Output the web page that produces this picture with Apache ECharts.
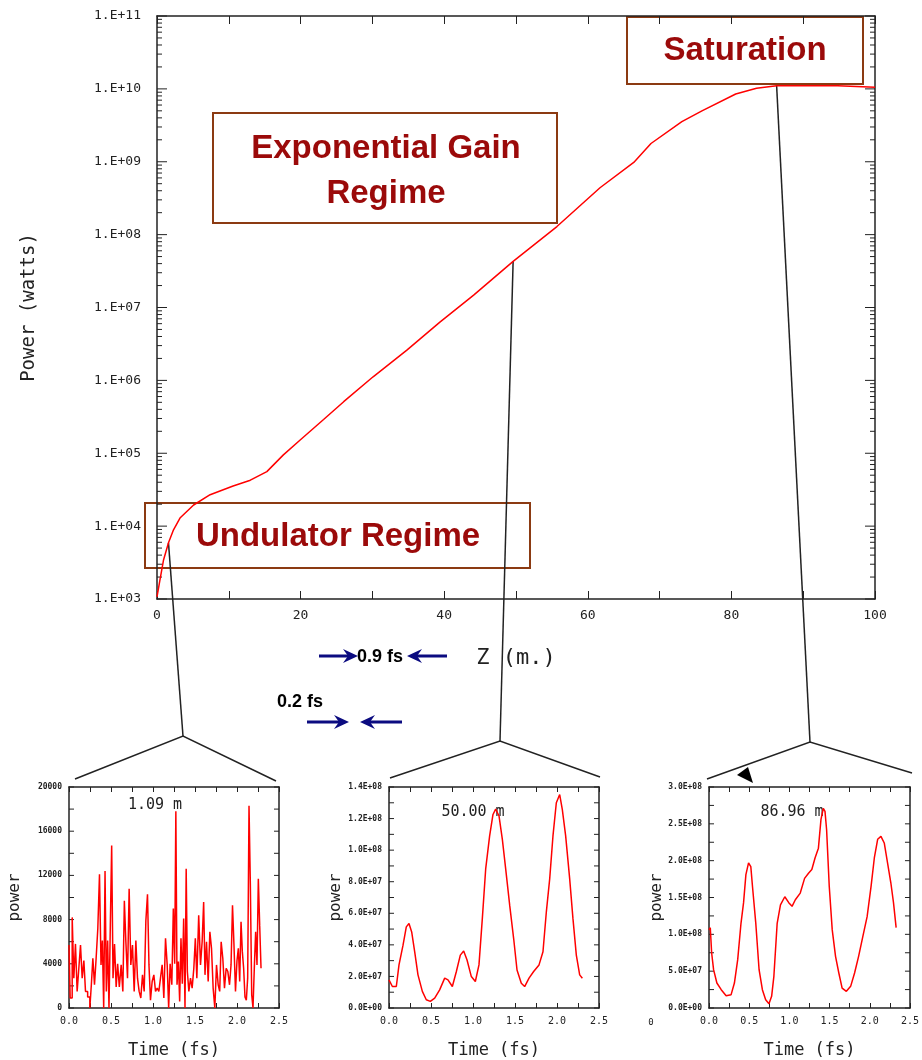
<!DOCTYPE html>
<html>
<head>
<meta charset="utf-8">
<script src="https://cdn.jsdelivr.net/npm/echarts@6.0.0/dist/echarts.min.js"></script>
<style>
  html, body { margin: 0; padding: 0; background: #fff; }
  #chart { width: 922px; height: 1060px; }
</style>
</head>
<body>
<div id="chart"></div>
<script>
// main gain curve: z (m) vs power (W)
var zPos = [0, 0.4, 0.9, 1.6, 2.3, 3.2, 5.1, 7.4, 10.6, 13, 15.3, 17.6, 19.9, 23.2, 26, 30.1,
  34.8, 39.4, 44.1, 49.6, 55.7, 61.7, 66.4, 68.8, 73.1, 75.9, 80.6, 83.5, 86.3, 90, 94.8, 100];
var powerW = [1.07e3, 1.8e3, 3.4e3, 5.9e3, 8.9e3, 1.29e4, 1.95e4, 2.7e4, 3.55e4, 4.27e4, 5.6e4,
  9.5e4, 1.51e5, 2.9e5, 5.1e5, 1.12e6, 2.6e6, 6.3e6, 1.48e7, 4.3e7, 1.29e8, 4.4e8, 9.8e8,
  1.78e9, 3.55e9, 5.0e9, 8.5e9, 1.02e10, 1.1e10, 1.1e10, 1.1e10, 1.05e10];

// pulse at 1.09 m
var t1 = [0.000, 0.028, 0.048, 0.067, 0.087, 0.107, 0.127, 0.147, 0.167, 0.187,
  0.206, 0.238, 0.258, 0.274, 0.294, 0.313, 0.333, 0.353, 0.373, 0.389,
  0.405, 0.421, 0.437, 0.452, 0.468, 0.484, 0.500, 0.516, 0.532, 0.552,
  0.571, 0.587, 0.611, 0.631, 0.651, 0.667, 0.687, 0.706, 0.726, 0.746,
  0.766, 0.786, 0.806, 0.825, 0.845, 0.865, 0.885, 0.905, 0.925, 0.944,
  0.960, 0.980, 1.000, 1.020, 1.040, 1.060, 1.079, 1.099, 1.119, 1.139,
  1.159, 1.179, 1.194, 1.214, 1.234, 1.250, 1.266, 1.278, 1.294, 1.310,
  1.325, 1.341, 1.357, 1.373, 1.389, 1.401, 1.417, 1.437, 1.456, 1.476,
  1.496, 1.512, 1.532, 1.556, 1.575, 1.595, 1.611, 1.627, 1.647, 1.667,
  1.687, 1.706, 1.726, 1.746, 1.766, 1.786, 1.802, 1.821, 1.841, 1.861,
  1.881, 1.901, 1.921, 1.937, 1.956, 1.972, 1.992, 2.008, 2.024, 2.040,
  2.056, 2.071, 2.087, 2.103, 2.119, 2.135, 2.151, 2.167, 2.183, 2.198,
  2.214, 2.230, 2.246, 2.262, 2.278, 2.294];
var p1 = [5700, 900, 8200, 2700, 5800, 1500, 3600, 5700, 2700, 4300,
  1500, 1000, 0, 2100, 4500, 2100, 4500, 7200, 12100, 3900,
  6100, 0, 12400, 1500, 6100, 0, 7500, 14700, 2700, 5800,
  1900, 4000, 1900, 3900, 1500, 9700, 6000, 2700, 10800, 3900,
  5700, 1500, 6100, 2700, 1500, 900, 3000, 1500, 7900, 10300,
  3900, 700, 2400, 3000, 1500, 1800, 1500, 2700, 3900, 900,
  6300, 3900, 0, 4000, 2100, 9000, 4000, 17800, 2100, 4200,
  600, 6300, 2200, 8100, 0, 12600, 3300, 1500, 2700, 1800,
  3600, 6300, 2700, 8400, 3900, 6000, 9600, 3000, 6000, 2400,
  6900, 5400, 1800, 0, 3900, 2100, 1500, 6000, 4500, 1800,
  3600, 3300, 2100, 3900, 9300, 5700, 1500, 4300, 5400, 2400,
  7800, 5100, 3600, 1000, 700, 2700, 18300, 11100, 1200, 0,
  3600, 6900, 3900, 11700, 7500, 3600];

// pulse at 50.00 m
var t2 = [0, 0.04, 0.087, 0.119, 0.167, 0.206, 0.238, 0.27, 0.306, 0.345,
  0.397, 0.444, 0.492, 0.544, 0.603, 0.663, 0.702, 0.754, 0.802, 0.849,
  0.889, 0.929, 0.98, 1.028, 1.071, 1.111, 1.151, 1.198, 1.238, 1.27,
  1.31, 1.349, 1.389, 1.437, 1.484, 1.524, 1.575, 1.615, 1.667, 1.722,
  1.786, 1.833, 1.873, 1.913, 1.952, 1.992, 2.032, 2.063, 2.103, 2.151,
  2.19, 2.23, 2.27, 2.302];
var p2 = [1.78e7, 1.36e7, 1.36e7, 2.73e7, 3.98e7, 5.14e7, 5.35e7, 4.82e7, 3.56e7, 2.10e7,
  1.05e7, 0.52e7, 0.42e7, 0.63e7, 1.15e7, 1.89e7, 1.78e7, 1.36e7, 2.31e7, 3.35e7,
  3.61e7, 3.04e7, 1.99e7, 1.68e7, 2.73e7, 5.66e7, 8.81e7, 10.9e7, 12.26e7, 12.6e7,
  12.16e7, 10.7e7, 8.81e7, 6.50e7, 4.40e7, 2.41e7, 1.57e7, 1.36e7, 1.89e7, 2.31e7,
  2.73e7, 3.56e7, 6.08e7, 8.18e7, 10.9e7, 13.0e7, 13.52e7, 12.58e7, 10.9e7, 8.18e7,
  5.66e7, 3.35e7, 2.10e7, 1.89e7];

// pulse at 86.96 m
var t3 = [0, 0.016, 0.033, 0.057, 0.098, 0.152, 0.213, 0.275, 0.316, 0.357,
  0.398, 0.43, 0.459, 0.492, 0.52, 0.541, 0.582, 0.623, 0.664, 0.705,
  0.746, 0.779, 0.807, 0.848, 0.889, 0.943, 0.992, 1.033, 1.074, 1.135,
  1.189, 1.238, 1.279, 1.32, 1.361, 1.393, 1.422, 1.443, 1.463, 1.496,
  1.533, 1.574, 1.615, 1.656, 1.709, 1.762, 1.811, 1.861, 1.914, 1.967,
  2.016, 2.057, 2.098, 2.139, 2.18, 2.221, 2.262, 2.295, 2.328];
var p3 = [10.6e7, 10.9e7, 7.47e7, 5.2e7, 3.39e7, 2.49e7, 1.67e7, 1.81e7, 3.39e7, 6.56e7,
  11.5e7, 14.3e7, 18.1e7, 19.7e7, 19.2e7, 16.5e7, 11.5e7, 5.2e7, 2.49e7, 1.13e7,
  0.59e7, 1.58e7, 4.30e7, 11.5e7, 14.0e7, 15.1e7, 14.3e7, 13.8e7, 14.7e7, 15.6e7,
  17.6e7, 18.3e7, 18.8e7, 20.4e7, 21.7e7, 25.6e7, 27.1e7, 26.7e7, 24.2e7, 16.5e7,
  10.6e7, 7.01e7, 4.75e7, 2.71e7, 2.26e7, 2.94e7, 4.75e7, 7.01e7, 9.73e7, 12.4e7,
  16.5e7, 20.4e7, 22.9e7, 23.3e7, 22.4e7, 19.7e7, 17.0e7, 14.3e7, 10.9e7];

var insetTitles = ['1.09 m', '50.00 m', '86.96 m'];

function pairs(xs, ys) {
  return xs.map(function (x, i) { return [x, ys[i]]; });
}
function pad2(n) { return (n < 10 ? '0' : '') + n; }
function logLabel(v) { return '1.E+' + pad2(Math.round(Math.log10(v))); }
function sciLabel(v) {
  if (v === 0) return '0.0E+00';
  var e = Math.floor(Math.log10(v) + 1e-9);
  return (v / Math.pow(10, e)).toFixed(1) + 'E+' + pad2(e);
}

var mono = 'DejaVu Sans Mono';
var sans = 'Liberation Sans';
var ink = '#222';
var red = '#ff0000';
var darkRed = '#9b0a0a';
var boxBrown = '#8b3a12';
var navy = '#0b0b80';

var grids = [
  { left: 157, top: 16, width: 718, height: 583 },
  { left: 69, top: 787, width: 210, height: 225 },
  { left: 389, top: 787, width: 210, height: 223 },
  { left: 709, top: 787, width: 204, height: 221 }
];

var lineAx = { onZero: false, lineStyle: { color: ink, width: 1.5 } };

var xAxes = [];
var yAxes = [];

// main chart axes
xAxes.push({
  gridIndex: 0, type: 'value', min: 0, max: 100, interval: 20,
  axisLine: lineAx, splitLine: { show: false },
  axisTick: { inside: true, length: 8, lineStyle: { color: ink } },
  minorTick: { show: true, splitNumber: 2, length: 8, lineStyle: { color: ink } },
  axisLabel: { fontFamily: mono, fontSize: 13, color: ink, margin: 10 },
  name: 'Z (m.)', nameLocation: 'middle', nameGap: 48,
  nameTextStyle: { fontFamily: mono, fontSize: 22, color: ink }
});
xAxes.push({
  gridIndex: 0, type: 'value', min: 0, max: 100, interval: 20, position: 'top',
  axisLine: lineAx, splitLine: { show: false }, axisLabel: { show: false },
  axisTick: { inside: true, length: 8, lineStyle: { color: ink } },
  minorTick: { show: true, splitNumber: 2, length: 8, lineStyle: { color: ink } }
});
yAxes.push({
  gridIndex: 0, type: 'log', logBase: 10, min: 1e3, max: 1e11, splitNumber: 8,
  axisLine: lineAx, splitLine: { show: false }, axisTick: { show: false },
  axisLabel: { fontFamily: mono, fontSize: 13, color: ink, margin: 16, formatter: logLabel },
  name: 'Power (watts)', nameLocation: 'middle', nameGap: 118,
  nameTextStyle: { fontFamily: mono, fontSize: 19, color: ink }
});
yAxes.push({
  gridIndex: 0, type: 'log', logBase: 10, min: 1e3, max: 1e11, splitNumber: 8, position: 'right',
  axisLine: lineAx, splitLine: { show: false }, axisLabel: { show: false }, axisTick: { show: false }
});

// inset axes
var insetY = [
  { max: 20000, interval: 4000, fmt: function (v) { return String(v); } },
  { max: 1.4e8, interval: 2e7, fmt: sciLabel },
  { max: 3e8, interval: 5e7, fmt: sciLabel }
];
var insetNameGap = [46, 45, 41];
insetY.forEach(function (cfg, k) {
  var gi = k + 1;
  var tick = { inside: true, length: 5, lineStyle: { color: ink } };
  var minor = { show: true, splitNumber: 2, length: 5, lineStyle: { color: ink } };
  xAxes.push({
    gridIndex: gi, type: 'value', min: 0, max: 2.5, interval: 0.5,
    axisLine: lineAx, splitLine: { show: false }, axisTick: tick, minorTick: minor,
    axisLabel: { fontFamily: mono, fontSize: 10, color: ink, margin: 8,
      formatter: function (v) { return v.toFixed(1); } },
    name: 'Time (fs)', nameLocation: 'middle', nameGap: 34,
    nameTextStyle: { fontFamily: mono, fontSize: 17, color: ink }
  });
  xAxes.push({
    gridIndex: gi, type: 'value', min: 0, max: 2.5, interval: 0.5, position: 'top',
    axisLine: lineAx, splitLine: { show: false }, axisLabel: { show: false },
    axisTick: tick, minorTick: minor
  });
  yAxes.push({
    gridIndex: gi, type: 'value', min: 0, max: cfg.max, interval: cfg.interval,
    axisLine: lineAx, splitLine: { show: false }, axisTick: { show: false },
    axisLabel: { fontFamily: mono, fontSize: 8, fontWeight: 'bold', color: ink, margin: 7,
      formatter: cfg.fmt },
    name: 'power', nameLocation: 'middle', nameGap: insetNameGap[k],
    nameTextStyle: { fontFamily: mono, fontSize: 16, color: ink }
  });
  yAxes.push({
    gridIndex: gi, type: 'value', min: 0, max: cfg.max, interval: cfg.interval, position: 'right',
    axisLine: lineAx, splitLine: { show: false }, axisLabel: { show: false }, axisTick: { show: false }
  });
});

// y ticks, drawn inward on both sides of each panel: [xmin, value, length]
var mainTicks = [];
for (var e = 3; e <= 11; e++) {
  mainTicks.push([0, Math.pow(10, e), 10]);
  if (e < 11) for (var m = 2; m <= 9; m++) mainTicks.push([0, m * Math.pow(10, e), 5]);
}
function linTicks(max, step) {
  var out = [];
  for (var i = 0; i * step <= max * 1.0001; i++) out.push([0, i * step, 5]);
  return out;
}

function yTickSeries(xi, yi, xmax, data) {
  return {
    type: 'custom', xAxisIndex: xi, yAxisIndex: yi, data: data, silent: true, animation: false,
    clip: false,
    renderItem: function (params, api) {
      var v = api.value(1);
      var len = api.value(2);
      var l = api.coord([0, v]);
      var r = api.coord([xmax, v]);
      var st = { stroke: ink, lineWidth: 1 };
      return {
        type: 'group', children: [
          { type: 'line', shape: { x1: l[0], y1: l[1], x2: l[0] + len, y2: l[1] }, style: st },
          { type: 'line', shape: { x1: r[0] - len, y1: r[1], x2: r[0], y2: r[1] }, style: st }
        ]
      };
    }
  };
}

function redLine(xi, yi, data, w, step) {
  return {
    type: 'line', xAxisIndex: xi, yAxisIndex: yi, data: data, showSymbol: false,
    step: step || false, silent: true, animation: false,
    lineStyle: { color: red, width: w }
  };
}

var series = [
  redLine(0, 0, pairs(zPos, powerW), 1.5),
  yTickSeries(0, 0, 100, mainTicks),
  redLine(2, 2, pairs(t1, p1), 1.5, 'middle'),
  yTickSeries(2, 2, 2.5, linTicks(20000, 2000)),
  redLine(4, 4, pairs(t2, p2), 1.5),
  yTickSeries(4, 4, 2.5, linTicks(1.4e8, 1e7)),
  redLine(6, 6, pairs(t3, p3), 1.5),
  yTickSeries(6, 6, 2.5, linTicks(3e8, 2.5e7))
];

function boxText(txt, cx, cy) {
  return {
    type: 'text', x: cx, y: cy, silent: true,
    style: { text: txt, fill: darkRed, font: 'bold 33px "' + sans + '"', align: 'center', verticalAlign: 'middle' }
  };
}
function box(x, y, w, h) {
  return { type: 'rect', silent: true, shape: { x: x, y: y, width: w, height: h },
    style: { fill: 'none', stroke: boxBrown, lineWidth: 2 } };
}
function arrow(x1, x2, y) {
  var dir = x2 > x1 ? 1 : -1;
  return [
    { type: 'line', silent: true, shape: { x1: x1, y1: y, x2: x2 - dir * 6, y2: y },
      style: { stroke: navy, lineWidth: 3 } },
    { type: 'polygon', silent: true,
      shape: { points: [[x2 - dir * 15, y - 7], [x2, y], [x2 - dir * 15, y + 7], [x2 - dir * 10, y]] },
      style: { fill: navy } }
  ];
}

var graphics = [
  box(627, 17, 236, 67),
  boxText('Saturation', 745, 51),
  box(213, 113, 344, 110),
  boxText('Exponential Gain', 386, 149),
  boxText('Regime', 386, 194),
  box(145, 503, 385, 65),
  boxText('Undulator Regime', 338, 537),
  { type: 'text', x: 357, y: 657, silent: true,
    style: { text: '0.9 fs', fill: '#000', font: 'bold 18px "' + sans + '"', verticalAlign: 'middle' } },
  { type: 'text', x: 277, y: 702, silent: true,
    style: { text: '0.2 fs', fill: '#000', font: 'bold 18px "' + sans + '"', verticalAlign: 'middle' } },
  { type: 'polygon', silent: true, shape: { points: [[737, 775], [748, 767], [753, 783]] },
    style: { fill: '#000' } },
  { type: 'text', x: 651, y: 1023, silent: true,
    style: { text: '0', fill: ink, font: '9px "' + mono + '"', align: 'center', verticalAlign: 'middle' } }
].concat(arrow(319, 358, 656), arrow(447, 407, 656), arrow(307, 349, 722), arrow(402, 360, 722));

var titlePos = [[155, 805], [473, 812], [792, 812]];
insetTitles.forEach(function (t, k) {
  graphics.push({ type: 'text', x: titlePos[k][0], y: titlePos[k][1], silent: true,
    style: { text: t, fill: ink, font: '15px "' + mono + '"', align: 'center', verticalAlign: 'middle' } });
});

var myChart = echarts.init(document.getElementById('chart'), null, { renderer: 'canvas' });
var option = {
  backgroundColor: '#fff',
  animation: false,
  grid: grids,
  xAxis: xAxes,
  yAxis: yAxes,
  series: series,
  graphic: graphics
};
myChart.setOption(option);

// zoom-out lines from the gain curve down to the three pulse panels
var anchorIdx = [3, 19, 28];
var hubs = [[183, 736], [500, 741], [810, 742]];
var wings = [[[75, 779], [276, 781]], [[390, 778], [600, 777]], [[707, 779], [912, 773]]];
var zoomLines = [];
anchorIdx.forEach(function (idx, k) {
  var a = myChart.convertToPixel({ xAxisIndex: 0, yAxisIndex: 0 }, [zPos[idx], powerW[idx]]);
  var st = { stroke: ink, lineWidth: 1.5, fill: 'none' };
  zoomLines.push({ type: 'polyline', silent: true, shape: { points: [a, hubs[k]] }, style: st });
  zoomLines.push({ type: 'polyline', silent: true,
    shape: { points: [wings[k][0], hubs[k], wings[k][1]] }, style: st });
});
myChart.setOption({ graphic: graphics.concat(zoomLines) });
</script>
</body>
</html>
